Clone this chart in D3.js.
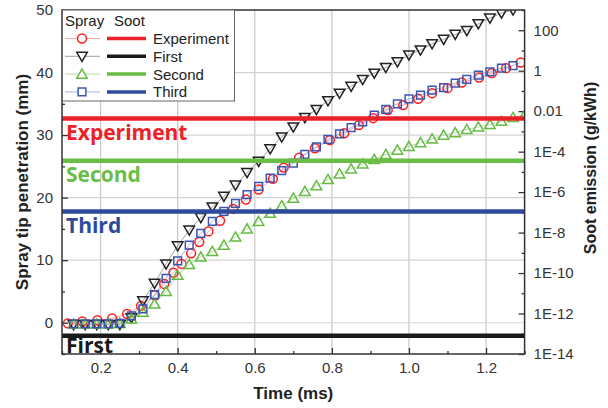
<!DOCTYPE html>
<html>
<head>
<meta charset="utf-8">
<script src="https://cdn.jsdelivr.net/npm/d3@7"></script>
<style>
  body { margin: 0; background: #fff; }
  svg { display: block; }
</style>
</head>
<body>
<div id="chart"></div>
<script>
// spray tip penetration (mm) vs time (ms), simulation points every 0.03 ms
var simTime = [0.13, 0.16, 0.19, 0.22, 0.25, 0.28, 0.31, 0.34, 0.37, 0.40,
  0.43, 0.46, 0.49, 0.52, 0.55, 0.58, 0.61, 0.64, 0.67, 0.70,
  0.73, 0.76, 0.79, 0.82, 0.85, 0.88, 0.91, 0.94, 0.97, 1.00,
  1.03, 1.06, 1.09, 1.12, 1.15, 1.18, 1.21, 1.24, 1.27, 1.30];

var firstSpray = [-0.3, -0.3, -0.3, -0.3, -0.3, 0.8, 3.5, 6.3, 9.4, 12.3,
  14.8, 16.8, 18.5, 20.2, 22.0, 24.0, 25.8, 27.8, 29.7, 31.3,
  32.8, 34.1, 35.5, 36.7, 37.8, 38.9, 39.9, 40.8, 41.7, 42.8,
  43.6, 44.6, 45.3, 46.1, 46.7, 47.8, 48.7, 49.5, 50.0];

var secondSpray = [-0.2, -0.2, -0.2, -0.2, -0.1, 0.6, 1.7, 3.0, 5.0, 7.6,
  9.3, 10.5, 11.4, 12.4, 13.7, 15.0, 16.2, 17.5, 18.7, 19.9,
  21.0, 21.9, 22.9, 23.8, 24.6, 25.4, 26.1, 26.9, 27.6, 28.2,
  28.8, 29.4, 30.0, 30.4, 30.9, 31.3, 31.7, 32.2, 32.8, 33.2];

var thirdSpray = [-0.2, -0.2, -0.2, -0.2, -0.1, 1.1, 2.2, 4.5, 7.1, 9.9,
  12.4, 14.3, 16.2, 17.8, 19.1, 20.5, 21.8, 23.1, 24.3, 25.5,
  26.9, 28.1, 29.3, 30.2, 31.2, 32.1, 33.2, 34.1, 35.0, 35.8,
  36.4, 37.2, 37.6, 38.3, 38.9, 39.6, 40.1, 40.7, 41.1];

var expTime = [0.115, 0.153, 0.192, 0.230, 0.269, 0.305, 0.341, 0.365, 0.389, 0.41,
  0.435, 0.456, 0.48, 0.51, 0.544, 0.577, 0.61, 0.647, 0.675, 0.715,
  0.756, 0.795, 0.832, 0.87, 0.907, 0.945, 0.985, 1.024, 1.06, 1.10,
  1.137, 1.182, 1.215, 1.252, 1.29];
var expSpray = [-0.1, 0.2, 0.4, 0.7, 1.4, 2.7, 4.4, 6.2, 8.0, 9.4,
  11.1, 12.9, 14.6, 16.3, 18.2, 19.7, 21.3, 23.0, 24.8, 26.4,
  27.9, 29.2, 30.3, 31.6, 32.7, 34.0, 34.8, 35.8, 36.7, 37.5,
  38.4, 39.2, 39.9, 40.7, 41.6];

// soot emission (g/kWh), one level per case
var sootCases = ["Experiment", "First", "Second", "Third"];
var sootValues = [0.0043, 8e-14, 3.5e-5, 1.1e-7];

var xTicks = [0.2, 0.4, 0.6, 0.8, 1.0, 1.2];
var xMinor = [0.1, 0.3, 0.5, 0.7, 0.9, 1.1, 1.3];
var yTicks = [0, 10, 20, 30, 40, 50];
var yMinor = [-5, 5, 15, 25, 35, 45];
var sootTicks = [1e-14, 1e-12, 1e-10, 1e-8, 1e-6, 1e-4, 1e-2, 1, 100];
var sootTickLabels = ["1E-14", "1E-12", "1E-10", "1E-8", "1E-6", "1E-4", "0.01", "1", "100"];
var sootMinor = [1e-13, 1e-11, 1e-9, 1e-7, 1e-5, 1e-3, 0.1, 10, 1000];

var colors = { Experiment: "#ec2027", First: "#1a1a1a", Second: "#6abd45", Third: "#2e4a9b" };
var markColors = { Experiment: "#ff1e1e", First: "#222", Second: "#66bb44", Third: "#3b55b0" };
var thinColors = { Experiment: "#f7a8a8", First: "#a0a0a0", Second: "#b4dca4", Third: "#a6b2dc" };

var width = 608, height = 408;
var pLeft = 62, pRight = 524.6, pTop = 10, pBottom = 354;
var tickFont = "'Liberation Sans', Arial, sans-serif";

var x = d3.scaleLinear().domain([0.1, 1.3]).range([pLeft, pRight]);
var y = d3.scaleLinear().domain([-5, 50]).range([pBottom, pTop]);
var ySoot = d3.scaleLog().domain([1e-14, 1e3]).range([pBottom, pTop]);

var svg = d3.select("#chart")
  .append("svg")
  .attr("width", width)
  .attr("height", height);

svg.append("clipPath")
  .attr("id", "plotclip")
  .append("rect")
  .attr("x", pLeft)
  .attr("y", pTop)
  .attr("width", pRight - pLeft)
  .attr("height", pBottom - pTop);

// grid
svg.append("g")
  .selectAll("line")
  .data(xTicks)
  .join("line")
  .attr("x1", d => x(d)).attr("x2", d => x(d))
  .attr("y1", pTop).attr("y2", pBottom)
  .style("stroke", "#c8c8c8")
  .style("stroke-width", 1.2);

svg.append("g")
  .selectAll("line")
  .data(yTicks.slice(0, 5))
  .join("line")
  .attr("x1", pLeft).attr("x2", pRight)
  .attr("y1", d => y(d)).attr("y2", d => y(d))
  .style("stroke", "#d4d4d4")
  .style("stroke-width", 1.2);

// axes (ticks point inward)
function styleAxis(g) {
  g.select(".domain").remove();
  g.selectAll("line").style("stroke", "#333").style("stroke-width", 1.3);
  g.selectAll("text")
    .style("font-family", tickFont)
    .style("font-size", "15px")
    .style("fill", "#333");
}

svg.append("g")
  .attr("transform", "translate(0," + pBottom + ")")
  .call(d3.axisBottom(x).tickValues(xTicks).tickSize(-6).tickPadding(8).tickFormat(d3.format(".1f")))
  .call(styleAxis);
svg.append("g")
  .attr("transform", "translate(0," + pBottom + ")")
  .call(d3.axisBottom(x).tickValues(xMinor).tickSize(-3).tickFormat(""))
  .call(styleAxis);

svg.append("g")
  .attr("transform", "translate(" + pLeft + ",0)")
  .call(d3.axisLeft(y).tickValues(yTicks).tickSize(-6).tickPadding(9))
  .call(styleAxis);
svg.append("g")
  .attr("transform", "translate(" + pLeft + ",0)")
  .call(d3.axisLeft(y).tickValues(yMinor).tickSize(-3).tickFormat(""))
  .call(styleAxis);

svg.append("g")
  .attr("transform", "translate(" + pRight + ",0)")
  .call(d3.axisRight(ySoot).tickValues(sootTicks).tickSize(-6).tickPadding(9)
    .tickFormat((d, i) => sootTickLabels[i]))
  .call(styleAxis);
svg.append("g")
  .attr("transform", "translate(" + pRight + ",0)")
  .call(d3.axisRight(ySoot).tickValues(sootMinor).tickSize(-3).tickFormat(""))
  .call(styleAxis);

// spray series: thin line + hollow markers
var sprayData = [
  { name: "Experiment", t: expTime, v: expSpray, shape: "circle" },
  { name: "First", t: simTime, v: firstSpray, shape: "down" },
  { name: "Second", t: simTime, v: secondSpray, shape: "up" },
  { name: "Third", t: simTime, v: thirdSpray, shape: "square" }
];

function markerPath(shape) {
  if (shape === "circle") return d3.symbol().type(d3.symbolCircle).size(62)();
  if (shape === "square") return d3.symbol().type(d3.symbolSquare).size(60)();
  return d3.symbol().type(d3.symbolTriangle).size(48)();
}
function markerTransform(shape, px, py) {
  if (shape === "down") return "translate(" + px + "," + (py - 1) + ") rotate(180)";
  if (shape === "up") return "translate(" + px + "," + (py + 1) + ")";
  return "translate(" + px + "," + py + ")";
}

var plot = svg.append("g").attr("clip-path", "url(#plotclip)");

var line = d3.line()
  .x(d => x(d[0]))
  .y(d => y(d[1]));

sprayData.forEach(function(s) {
  var pts = s.v.map((v, i) => [s.t[i], v]);
  plot.append("path")
    .datum(pts)
    .attr("d", line)
    .style("fill", "none")
    .style("stroke", thinColors[s.name])
    .style("stroke-width", 1);
});

sprayData.forEach(function(s) {
  var pts = s.v.map((v, i) => [s.t[i], v]);
  plot.append("g")
    .selectAll("path")
    .data(pts)
    .join("path")
    .attr("d", markerPath(s.shape))
    .attr("transform", d => markerTransform(s.shape, x(d[0]), y(d[1])))
    .style("fill", "none")
    .style("stroke", markColors[s.name])
    .style("stroke-width", 1.5);
});

// soot levels: thick horizontal lines with labels
svg.append("g")
  .selectAll("line")
  .data(sootCases)
  .join("line")
  .attr("x1", pLeft).attr("x2", pRight)
  .attr("y1", (d, i) => ySoot(sootValues[i]))
  .attr("y2", (d, i) => ySoot(sootValues[i]))
  .style("stroke", d => colors[d])
  .style("stroke-width", 4.5);

svg.append("g")
  .selectAll("text")
  .data(sootCases)
  .join("text")
  .attr("x", 66)
  .attr("y", (d, i) => ySoot(sootValues[i]) + (d === "First" ? 17 : 21))
  .style("font-family", "'Open Sans', sans-serif")
  .style("font-weight", "bold")
  .style("font-size", "21px")
  .style("fill", d => colors[d])
  .text(d => d);

// frame
svg.append("rect")
  .attr("x", pLeft).attr("y", pTop)
  .attr("width", pRight - pLeft).attr("height", pBottom - pTop)
  .style("fill", "none")
  .style("stroke", "#333")
  .style("stroke-width", 1.5);

// legend
var legend = svg.append("g");
legend.append("rect")
  .attr("x", 62.5).attr("y", 10)
  .attr("width", 172).attr("height", 91)
  .style("fill", "white")
  .style("stroke", "#666")
  .style("stroke-width", 1);

legend.append("text")
  .attr("x", 65).attr("y", 26)
  .style("font-family", tickFont)
  .style("font-size", "15px")
  .style("fill", "#222")
  .text("Spray");
legend.append("text")
  .attr("x", 114).attr("y", 26)
  .style("font-family", tickFont)
  .style("font-size", "15px")
  .style("fill", "#222")
  .text("Soot");

sprayData.forEach(function(s, i) {
  var ly = 38.5 + i * 17.8;
  legend.append("line")
    .attr("x1", 65).attr("x2", 100).attr("y1", ly).attr("y2", ly)
    .style("stroke", thinColors[s.name]).style("stroke-width", 1);
  legend.append("path")
    .attr("d", markerPath(s.shape))
    .attr("transform", markerTransform(s.shape, 82, ly))
    .style("fill", "white")
    .style("stroke", markColors[s.name])
    .style("stroke-width", 1.5);
  legend.append("line")
    .attr("x1", 107).attr("x2", 146).attr("y1", ly).attr("y2", ly)
    .style("stroke", colors[s.name]).style("stroke-width", 3.5);
  legend.append("text")
    .attr("x", 153).attr("y", ly + 5.5)
    .style("font-family", tickFont)
    .style("font-size", "15px")
    .style("fill", "#222")
    .text(s.name);
});

// axis titles
svg.append("text")
  .attr("transform", "translate(28,182) rotate(-90)")
  .style("font-family", tickFont)
  .style("font-weight", "bold")
  .style("font-size", "17px")
  .style("text-anchor", "middle")
  .style("fill", "#222")
  .text("Spray tip penetration (mm)");

svg.append("text")
  .attr("transform", "translate(596,168) rotate(-90)")
  .style("font-family", tickFont)
  .style("font-weight", "bold")
  .style("font-size", "16px")
  .style("text-anchor", "middle")
  .style("fill", "#222")
  .text("Soot emission (g/kWh)");

svg.append("text")
  .attr("x", (pLeft + pRight) / 2)
  .attr("y", 399)
  .style("font-family", tickFont)
  .style("font-weight", "bold")
  .style("font-size", "17px")
  .style("text-anchor", "middle")
  .style("fill", "#222")
  .text("Time (ms)");
</script>
</body>
</html>
